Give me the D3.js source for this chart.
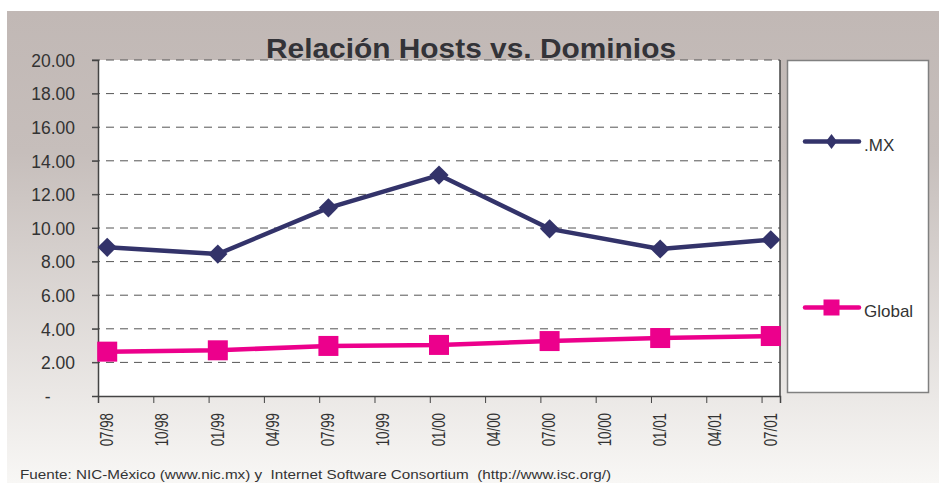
<!DOCTYPE html>
<html>
<head>
<meta charset="utf-8">
<script src="https://d3js.org/d3.v7.min.js"></script>
<style>
  body { margin: 0; background: #fff; }
  text { font-family: "Liberation Sans", Arial, sans-serif; }
</style>
</head>
<body>
<svg id="chart" width="939" height="483"></svg>
<script>
// data (month index from 07/98)
const tickLabels = ["07/98","10/98","01/99","04/99","07/99","10/99","01/00","04/00","07/00","10/00","01/01","04/01","07/01"];
const periods = ["07/98","01/99","07/99","01/00","07/00","01/01","07/01"];
const monthIdx = [0, 6, 12, 18, 24, 30, 36];
const mxValues = [8.85, 8.45, 11.2, 13.15, 9.95, 8.75, 9.3];
const globalValues = [2.64, 2.72, 2.98, 3.04, 3.27, 3.45, 3.57];
const yTicks = [0, 2, 4, 6, 8, 10, 12, 14, 16, 18, 20];

const svg = d3.select("#chart");
const margin = { top: 60, left: 98, right: 780, bottom: 396 };

// background gradient
const defs = svg.append("defs");
const grad = defs.append("linearGradient")
  .attr("id", "bg").attr("x1", 0).attr("y1", 0).attr("x2", 0).attr("y2", 1);
grad.append("stop").attr("offset", "0%").attr("stop-color", "#c1b8b5");
grad.append("stop").attr("offset", "30%").attr("stop-color", "#c6bebb");
grad.append("stop").attr("offset", "100%").attr("stop-color", "#f8f7f5");
svg.append("rect")
  .attr("x", 7).attr("y", 11).attr("width", 932).attr("height", 472)
  .attr("fill", "url(#bg)");

const x = d3.scaleLinear().domain([0, 37]).range([margin.left, margin.right]);
const y = d3.scaleLinear().domain([0, 20]).range([margin.bottom, margin.top]);

// plot area
svg.append("rect")
  .attr("x", margin.left).attr("y", margin.top)
  .attr("width", margin.right - margin.left).attr("height", margin.bottom - margin.top)
  .attr("fill", "#fff");

// gridlines (dashed)
svg.append("g")
  .selectAll("line")
  .data(yTicks.filter(d => d > 0))
  .join("line")
  .attr("x1", margin.left - 6).attr("x2", margin.right)
  .attr("y1", d => y(d)).attr("y2", d => y(d))
  .attr("stroke", "#555").attr("stroke-width", 1)
  .attr("stroke-dasharray", "8,6");

// y axis
const yAxis = svg.append("g")
  .attr("transform", `translate(${margin.left},0)`)
  .call(d3.axisLeft(y).tickValues(yTicks).tickSize(6).tickPadding(17)
    .tickFormat(d => d === 0 ? "-     " : d3.format(".2f")(d)));
yAxis.select(".domain").attr("stroke", "#444").attr("stroke-width", 1.5);
yAxis.selectAll("line").attr("stroke", "#444");
yAxis.selectAll("text").attr("font-size", 17.5).attr("fill", "#333")
  .attr("font-family", "Liberation Sans, Arial, sans-serif")
  .attr("dy", "0.36em")
  .style("white-space", "pre");

// x axis
const xAxis = svg.append("g")
  .attr("transform", `translate(0,${margin.bottom})`)
  .call(d3.axisBottom(x).tickValues(d3.range(0, 37, 3)).tickSize(7)
    .tickFormat((d, i) => tickLabels[i]));
xAxis.select(".domain").attr("stroke", "#444").attr("stroke-width", 1.5);
xAxis.selectAll("line").attr("stroke", "#444");
xAxis.selectAll("text")
  .attr("font-size", 18.5).attr("fill", "#333")
  .attr("font-family", "Liberation Sans, Arial, sans-serif")
  .attr("text-anchor", "end")
  .attr("dy", null)
  .attr("transform", "translate(14.5,17) rotate(-90) scale(0.72,1)")
  .attr("x", 0).attr("y", 0);

// right border of plot
svg.append("line")
  .attr("x1", margin.right).attr("x2", margin.right)
  .attr("y1", margin.top).attr("y2", margin.bottom)
  .attr("stroke", "#444").attr("stroke-width", 1.5);

const line = d3.line().x((d, i) => x(monthIdx[i] + 0.5)).y(d => y(d));
const mxColor = "#33336a", glColor = "#ec008c";

// MX series
svg.append("path").datum(mxValues)
  .attr("d", line).attr("fill", "none")
  .attr("stroke", mxColor).attr("stroke-width", 4.5).attr("stroke-linejoin", "round");
svg.append("g").selectAll("path")
  .data(mxValues).join("path")
  .attr("d", d3.symbol(d3.symbolDiamond2, 235))
  .attr("transform", (d, i) => `translate(${x(monthIdx[i] + 0.5)},${y(d)})`)
  .attr("fill", mxColor);

// Global series
svg.append("path").datum(globalValues)
  .attr("d", line).attr("fill", "none")
  .attr("stroke", glColor).attr("stroke-width", 4.5).attr("stroke-linejoin", "round");
svg.append("g").selectAll("rect")
  .data(globalValues).join("rect")
  .attr("x", (d, i) => x(monthIdx[i] + 0.5) - 10)
  .attr("y", d => y(d) - 10)
  .attr("width", 20).attr("height", 20)
  .attr("fill", glColor);

// title
svg.append("text")
  .attr("x", 266).attr("y", 58)
  .attr("font-size", 28).attr("font-weight", "bold").attr("fill", "#333338")
  .attr("textLength", 410).attr("lengthAdjust", "spacingAndGlyphs")
  .text("Relación Hosts vs. Dominios");

// legend
const lg = svg.append("g");
lg.append("rect")
  .attr("x", 787.5).attr("y", 60.5).attr("width", 141).attr("height", 332)
  .attr("fill", "#fff").attr("stroke", "#808080").attr("stroke-width", 1.5);
const legendItems = [
  { name: ".MX", color: mxColor, y: 141.5, shape: "diamond" },
  { name: "Global", color: glColor, y: 307.5, shape: "square" }
];
legendItems.forEach(it => {
  lg.append("line")
    .attr("x1", 805).attr("x2", 859).attr("y1", it.y).attr("y2", it.y)
    .attr("stroke", it.color).attr("stroke-width", 4.5).attr("stroke-linecap", "round");
  if (it.shape === "diamond") {
    lg.append("path")
      .attr("d", d3.symbol(d3.symbolDiamond2, 110))
      .attr("transform", `translate(831.5,${it.y}) scale(0.85,1.15)`)
      .attr("fill", it.color);
  } else {
    lg.append("rect")
      .attr("x", 823.5).attr("y", it.y - 8).attr("width", 16).attr("height", 16)
      .attr("fill", it.color);
  }
  lg.append("text")
    .attr("x", 864).attr("y", it.y + 9)
    .attr("font-size", 17).attr("fill", "#333")
    .text(it.name);
});

// source note
svg.append("text")
  .attr("x", 20).attr("y", 479)
  .attr("font-size", 13.5).attr("fill", "#333")
  .attr("textLength", 591).attr("lengthAdjust", "spacingAndGlyphs")
  .style("white-space", "pre")
  .text("Fuente: NIC-México (www.nic.mx) y  Internet Software Consortium  (http://www.isc.org/)");
</script>
</body>
</html>
